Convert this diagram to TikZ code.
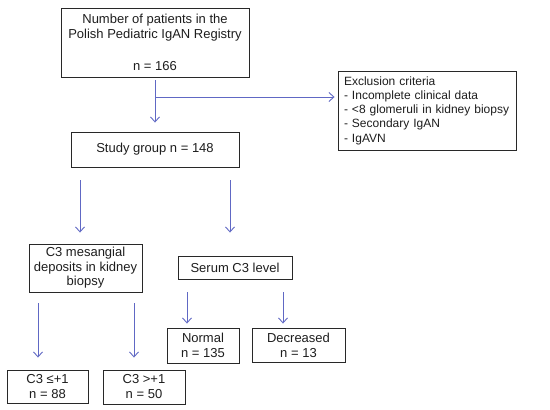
\documentclass[tikz,border=0pt]{standalone}
\usepackage{fontspec}
\setmainfont{Liberation Sans}
\usetikzlibrary{arrows.meta,calc}
\definecolor{arrowblue}{RGB}{96,104,196}
\definecolor{boxline}{RGB}{40,40,40}
\definecolor{txt}{RGB}{30,30,30}
\begin{document}
\begin{tikzpicture}[x=1pt,y=-1pt,
  box/.style={draw=boxline, line width=0.9pt, rectangle, inner sep=0pt, align=center, text=txt, font=\fontsize{13}{15}\selectfont},
  arr/.style={draw=arrowblue, line width=0.9pt, -{Straight Barb[length=5pt,width=9pt]}}]
\useasboundingbox (0,0) rectangle (550,410);
\fill[white] (0,0) rectangle (550,410);
% boxes
\node[box, minimum width=188pt, minimum height=69pt] (top) at (155,42.5) {Number of patients in the\\Polish Pediatric IgAN Registry\\[17pt]n = 166};
\node[box, minimum width=178pt, minimum height=79pt, text width=166pt, inner xsep=6pt, align=left, font=\fontsize{12}{14.3}\selectfont] (excl) at (427,110.5) {Exclusion criteria\\- Incomplete clinical data\\- <8 glomeruli in kidney biopsy\\- Secondary IgAN\\- IgAVN};
\node[box, minimum width=168pt, minimum height=35pt] (study) at (155,149.5) {Study group n = 148};
\node[box, minimum width=113pt, minimum height=48pt, font=\fontsize{13}{14.5}\selectfont] (c3m) at (85.5,268) {C3 mesangial\\deposits in kidney\\biopsy};
\node[box, minimum width=114pt, minimum height=23pt] (serum) at (235,267.5) {Serum C3 level};
\node[box, minimum width=72pt, minimum height=35pt] (normal) at (203,345.5) {Normal\\n = 135};
\node[box, minimum width=93pt, minimum height=34pt] (decr) at (298.5,345) {Decreased\\n = 13};
\node[box, minimum width=81pt, minimum height=33pt] (c3le) at (47.5,386.5) {C3 ≤+1\\n = 88};
\node[box, minimum width=82pt, minimum height=34pt] (c3gt) at (144,387) {C3 >+1\\n = 50};
% arrow x positions
\coordinate (br) at (155,97);
\coordinate (xa) at (80,0);
\coordinate (xb) at (230,0);
\coordinate (xc) at (187,0);
\coordinate (xd) at (283,0);
\coordinate (xe) at (38,0);
\coordinate (xf) at (134,0);
% arrows
\draw[arr, shorten <=3pt, shorten >=9pt] (top) -- (study);
\draw[arr, shorten >=3pt] (br) -- (br -| excl.west);
\draw[arr, shorten <=13pt, shorten >=11pt] (study.south -| xa) -- (c3m.north -| xa);
\draw[arr, shorten <=13pt, shorten >=23pt] (study.south -| xb) -- (serum.north -| xb);
\draw[arr, shorten <=13pt, shorten >=4pt] (serum.south -| xc) -- (normal.north -| xc);
\draw[arr, shorten <=13pt, shorten >=4pt] (serum.south -| xd) -- (decr.north -| xd);
\draw[arr, shorten <=11pt, shorten >=12pt] (c3m.south -| xe) -- (c3le.north -| xe);
\draw[arr, shorten <=11pt, shorten >=12pt] (c3m.south -| xf) -- (c3gt.north -| xf);
\end{tikzpicture}
\end{document}
